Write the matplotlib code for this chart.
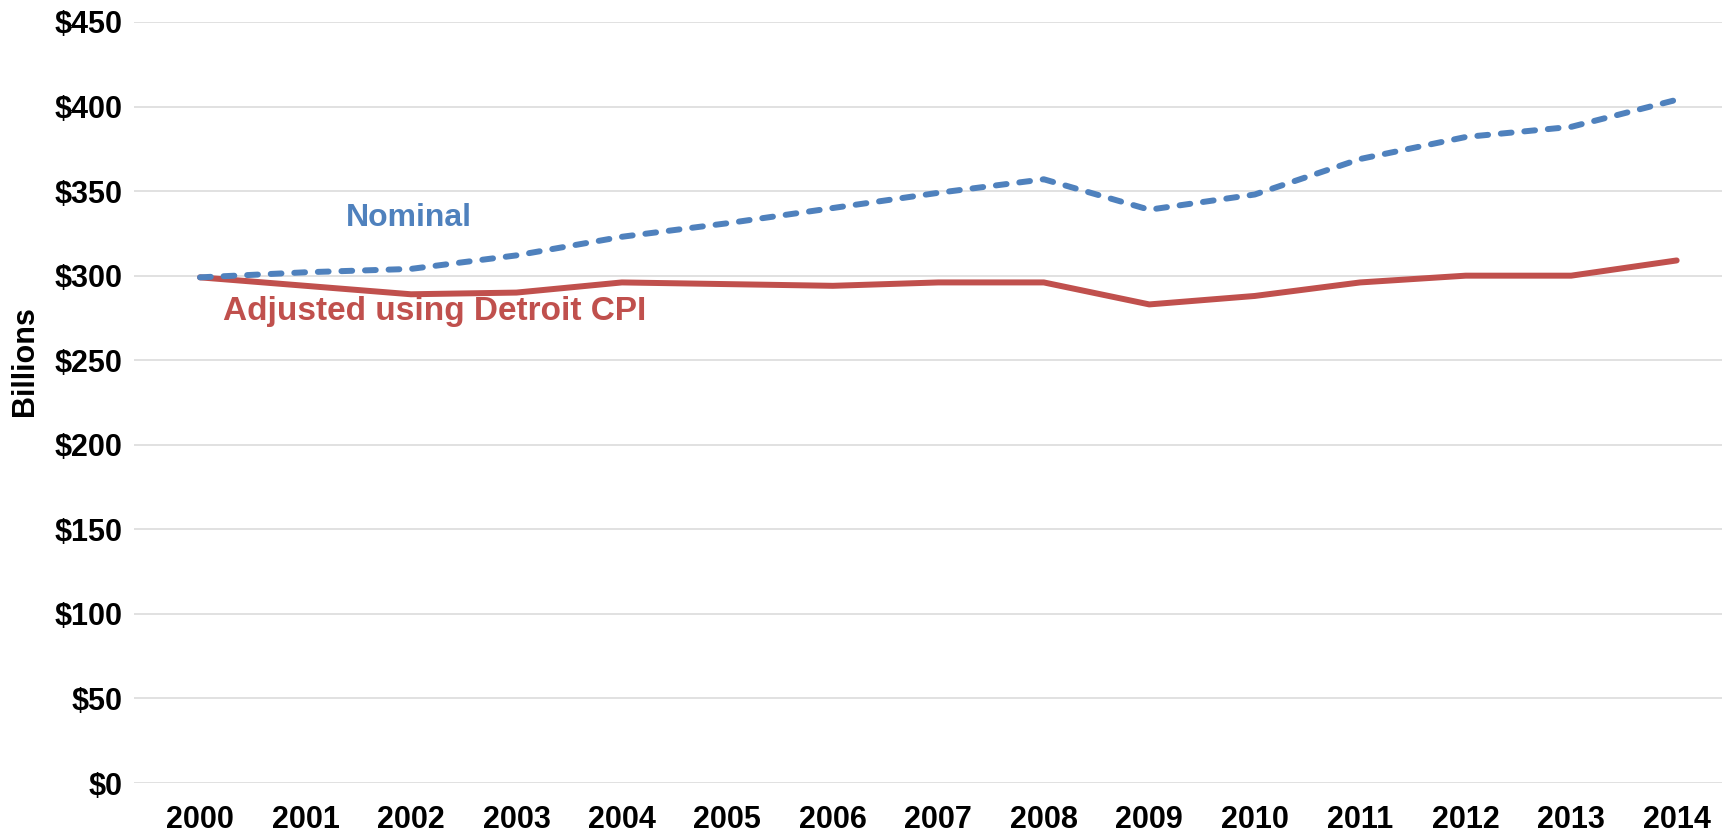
import matplotlib
matplotlib.use("Agg")
import matplotlib.pyplot as plt

years = [str(y) for y in range(2000, 2015)]
nominal = [299, 302, 304, 312, 323, 331, 340, 349, 357, 339, 348, 369, 382, 388, 404]
adjusted = [299, 294, 289, 290, 296, 295, 294, 296, 296, 283, 288, 296, 300, 300, 309]
yticks = [0, 50, 100, 150, 200, 250, 300, 350, 400, 450]
ytick_labels = ["$" + str(v) for v in yticks]

BLUE = "#4F81BD"
RED = "#C0504D"

plt.rcParams["font.family"] = ["Liberation Sans", "DejaVu Sans"]
plt.rcParams["font.weight"] = "bold"

fig = plt.figure(figsize=(17.26, 8.35), dpi=100)
ax = fig.add_axes([134 / 1726, 52 / 835, (1722 - 134) / 1726, (783 - 22) / 835])

x = list(range(len(years)))
ax.plot(x, adjusted, color=RED, lw=4.3, solid_capstyle="round", solid_joinstyle="round", zorder=3)
ax.plot(x, nominal, color=BLUE, lw=4.3, dashes=(1.8, 2.15), dash_capstyle="round",
        dash_joinstyle="round", zorder=3)

ax.set_ylim(0, 450)
ax.set_xlim(-0.626, 14.43)
ax.set_yticks(yticks)
ax.set_yticklabels(ytick_labels)
ax.set_xticks(x)
ax.set_xticklabels(years)
ax.tick_params(axis="both", length=0, labelsize=22)
ax.tick_params(axis="y", pad=8)
ax.tick_params(axis="x", pad=16)
for lab in ax.get_xticklabels() + ax.get_yticklabels():
    lab.set_fontweight("bold")

ax.grid(axis="y", color="#D9D9D9", lw=1.1)
ax.set_axisbelow(True)
for s in ax.spines.values():
    s.set_visible(False)

ylab = ax.set_ylabel("Billions", fontsize=22, fontweight="bold")
ylab.set_va("center")
ax.yaxis.set_label_coords((25.5 - 134) / 1588, 0.5545)

ax.text(1.98, 334, "Nominal", color=BLUE, fontsize=23, fontweight="bold", ha="center", va="center")
ax.text(2.22, 279, "Adjusted using Detroit CPI", color=RED, fontsize=24, fontweight="bold",
        ha="center", va="center")

fig.savefig("out.png", dpi=100)
